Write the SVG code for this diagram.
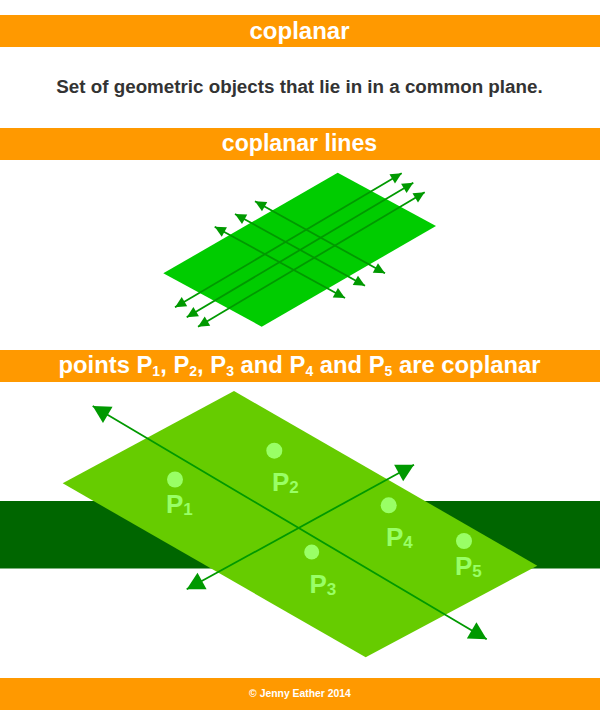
<svg xmlns="http://www.w3.org/2000/svg" width="600" height="710" viewBox="0 0 600 710">
<style>
text{font-family:"Liberation Sans",Arial,sans-serif;font-weight:700}
.bar{fill:#ff9900}
.h{fill:#fff;font-size:24px;text-anchor:middle}
.sub{font-size:14px}
.l{fill:#99ff66;font-size:26px}
.ls{font-size:17px}
.d{fill:#99ff66}
.a{stroke:#009900;stroke-width:1.8;fill:none;marker-start:url(#sm);marker-end:url(#sm)}
.b{stroke:#009900;stroke-width:1.8;fill:none;marker-start:url(#lg);marker-end:url(#lg)}
</style>
<defs>
<marker id="sm" markerUnits="userSpaceOnUse" markerWidth="14" markerHeight="14" refX="12" refY="7" orient="auto-start-reverse"><path d="M1 1.6L12 7L1 12.4Z" fill="#009900"/></marker>
<marker id="lg" markerUnits="userSpaceOnUse" markerWidth="22" markerHeight="22" refX="19" refY="11" orient="auto-start-reverse"><path d="M1.5 1.6L19 11L1.5 20.4Z" fill="#009900"/></marker>
</defs>
<rect width="600" height="710" fill="#fff"/>
<g id="title"><rect class="bar" y="15" width="600" height="32"/><text class="h" x="299.5" y="39">coplanar</text></g>
<g id="definition"><text x="299.5" y="93" text-anchor="middle" font-size="18.8" fill="#333">Set of geometric objects that lie in in a common plane.</text></g>
<g id="heading-lines"><rect class="bar" y="128" width="600" height="32"/><text class="h" x="299.5" y="151" style="font-size:23.1px">coplanar lines</text></g>
<g id="plane-small"><polygon points="337.7,172.7 436,226 261.7,326.7 163.3,273.3" fill="#00cc00"/></g>
<g id="connectors-small">
<line class="a" x1="175" y1="307.3" x2="401.7" y2="173.3"/>
<line class="a" x1="186.7" y1="317.3" x2="413.3" y2="182.7"/>
<line class="a" x1="198" y1="326.7" x2="424.7" y2="192.3"/>
<line class="a" x1="255" y1="201.3" x2="385" y2="273.3"/>
<line class="a" x1="235" y1="214" x2="365" y2="285.7"/>
<line class="a" x1="214.7" y1="226.7" x2="345" y2="298"/>
</g>
<g id="heading-points"><rect class="bar" y="350" width="600" height="32"/><text class="h" x="299.5" y="373" style="font-size:23.8px">points P<tspan class="sub" dy="3">1</tspan><tspan dy="-3">, P</tspan><tspan class="sub" dy="3">2</tspan><tspan dy="-3">, P</tspan><tspan class="sub" dy="3">3</tspan><tspan dy="-3"> and P</tspan><tspan class="sub" dy="3">4</tspan><tspan dy="-3"> and P</tspan><tspan class="sub" dy="3">5</tspan><tspan dy="-3"> are coplanar</tspan></text></g>
<rect id="band" y="501" width="600" height="67.5" fill="#006600"/>
<g id="plane-large"><polygon points="234,391 537.3,565.7 365.7,657.3 62.7,483.3" fill="#66cc00"/></g>
<g id="connectors-large">
<line class="b" x1="92.7" y1="406" x2="486.7" y2="639.3"/>
<line class="b" x1="186.7" y1="589.3" x2="414" y2="464.7"/>
</g>
<g id="P1"><circle class="d" cx="175" cy="479.5" r="8"/><text class="l" x="166" y="513">P<tspan class="ls" dy="2">1</tspan></text></g>
<g id="P2"><circle class="d" cx="274.3" cy="450.7" r="8"/><text class="l" x="272" y="491">P<tspan class="ls" dy="2">2</tspan></text></g>
<g id="P3"><circle class="d" cx="311.7" cy="552" r="7.5"/><text class="l" x="309.5" y="592.5">P<tspan class="ls" dy="2">3</tspan></text></g>
<g id="P4"><circle class="d" cx="388.7" cy="505.3" r="8"/><text class="l" x="386" y="546">P<tspan class="ls" dy="2">4</tspan></text></g>
<g id="P5"><circle class="d" cx="464" cy="541" r="8"/><text class="l" x="455" y="575">P<tspan class="ls" dy="2">5</tspan></text></g>
<g id="footer"><rect class="bar" y="678" width="600" height="32"/><text x="300" y="697" text-anchor="middle" font-size="10.4" fill="#fff">© Jenny Eather 2014</text></g>
</svg>
